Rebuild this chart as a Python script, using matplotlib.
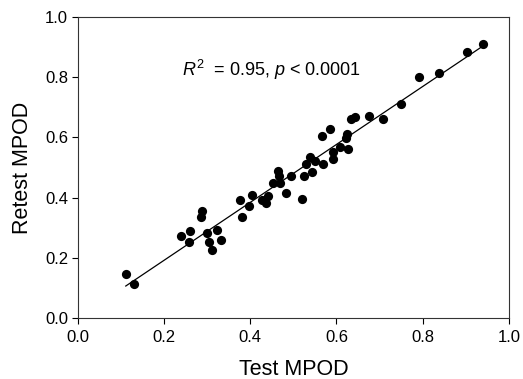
import numpy as np
import matplotlib.pyplot as plt

plt.rcParams['font.family'] = ['Liberation Sans', 'DejaVu Sans']
plt.rcParams['mathtext.fontset'] = 'custom'
plt.rcParams['mathtext.rm'] = 'Liberation Sans'
plt.rcParams['mathtext.it'] = 'Liberation Sans:italic'

# Test vs retest MPOD values
test_mpod = [0.111, 0.130, 0.239, 0.258, 0.261, 0.285, 0.288, 0.299, 0.305, 0.312,
             0.322, 0.331, 0.376, 0.381, 0.398, 0.405, 0.426, 0.436, 0.442, 0.453,
             0.465, 0.467, 0.470, 0.483, 0.495, 0.521, 0.524, 0.530, 0.538, 0.542,
             0.549, 0.567, 0.569, 0.585, 0.591, 0.593, 0.607, 0.622, 0.624, 0.626,
             0.634, 0.644, 0.676, 0.709, 0.749, 0.792, 0.839, 0.902, 0.940]
retest_mpod = [0.147, 0.113, 0.271, 0.252, 0.288, 0.336, 0.354, 0.282, 0.252, 0.227,
               0.292, 0.260, 0.392, 0.336, 0.373, 0.409, 0.392, 0.383, 0.407, 0.447,
               0.487, 0.472, 0.448, 0.414, 0.471, 0.397, 0.473, 0.512, 0.534, 0.486,
               0.523, 0.606, 0.511, 0.627, 0.551, 0.527, 0.567, 0.597, 0.610, 0.560,
               0.661, 0.669, 0.671, 0.660, 0.710, 0.800, 0.813, 0.884, 0.910]

x = np.array(test_mpod)
y = np.array(retest_mpod)
slope, intercept = np.polyfit(x, y, 1)
xfit = np.array([x.min(), x.max()])

fig = plt.figure(figsize=(5.23, 3.79), dpi=100)
ax = fig.add_axes([0.149, 0.161, 0.824, 0.794])

ax.scatter(x, y, s=44, color='black', zorder=3, linewidths=0)
ax.plot(xfit, slope * xfit + intercept, color='black', linewidth=0.9)

ax.set_xlim(0, 1.0)
ax.set_ylim(0, 1.0)
ax.set_xticks(np.arange(0, 1.01, 0.2))
ax.set_yticks(np.arange(0, 1.01, 0.2))
ax.xaxis.set_major_formatter(plt.FormatStrFormatter('%.1f'))
ax.yaxis.set_major_formatter(plt.FormatStrFormatter('%.1f'))
ax.tick_params(direction='out', length=4, width=0.8, labelsize=12)
ax.tick_params(axis='x', pad=5)
ax.tick_params(axis='y', pad=3)
for sp in ax.spines.values():
    sp.set_linewidth(0.8)
    sp.set_color('#333333')

ax.set_xlabel('Test MPOD', fontsize=15.5, labelpad=10)
ax.set_ylabel('Retest MPOD', fontsize=15.5, labelpad=9)

ax.text(0.45, 0.825, r'$R^2$  = 0.95, $p$ < 0.0001', fontsize=13,
        ha='center', va='center', transform=ax.transData)

fig.savefig('out.png', dpi=100)
